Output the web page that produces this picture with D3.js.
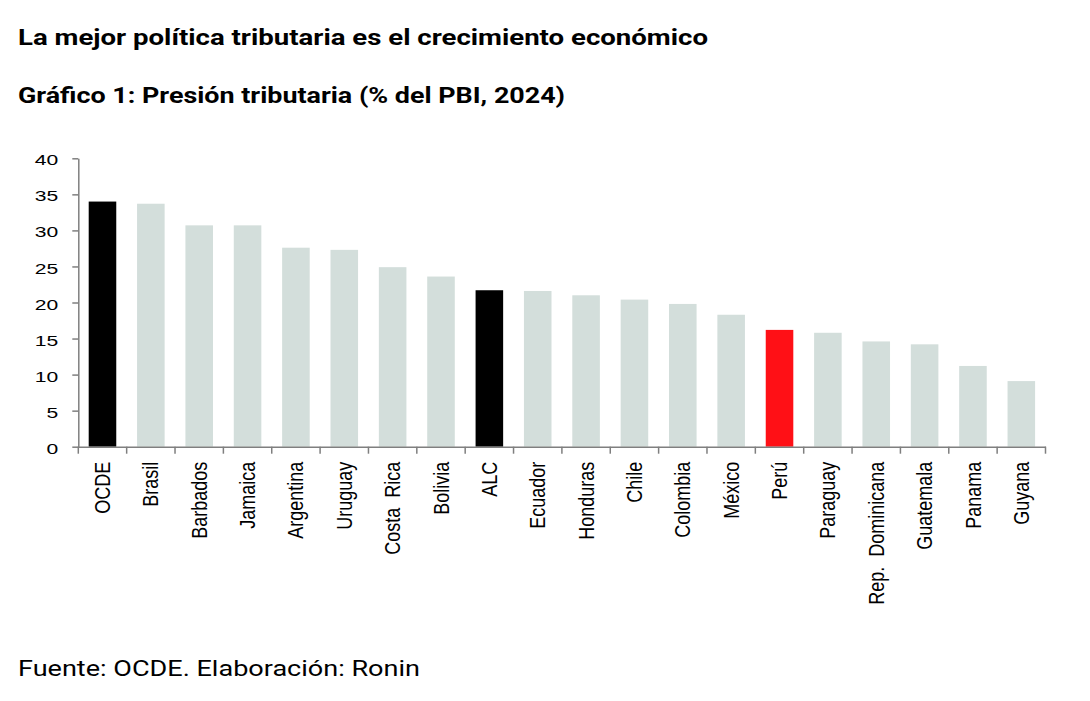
<!DOCTYPE html>
<html>
<head>
<meta charset="utf-8">
<script src="https://cdn.jsdelivr.net/npm/d3@7/dist/d3.min.js"></script>
<style>
  html, body { margin: 0; padding: 0; background: #fff; }
  svg { display: block; }
</style>
</head>
<body>
<svg id="chart" width="1090" height="701"></svg>
<script>
const categories = ["OCDE","Brasil","Barbados","Jamaica","Argentina","Uruguay","Costa  Rica","Bolivia","ALC","Ecuador","Honduras","Chile","Colombia","México","Perú","Paraguay","Rep.  Dominicana","Guatemala","Panama","Guyana"];
const values = [34.0,33.7,30.7,30.7,27.6,27.3,24.9,23.6,21.7,21.6,21.0,20.4,19.8,18.3,16.2,15.8,14.6,14.2,11.2,9.1];
const highlightBlack = ["OCDE","ALC"];
const highlightRed = ["Perú"];
const yTicks = [0,5,10,15,20,25,30,35,40];
const title = "La mejor política tributaria es el crecimiento económico";
const subtitle = "Gráfico 1: Presión tributaria (% del PBI, 2024)";
const source = "Fuente: OCDE. Elaboración: Ronin";

const data = categories.map((c, i) => ({ name: c, value: values[i] }));

const svg = d3.select("#chart");
const mLeft = 78.3, mRight = 1045.5, mTop = 158.3, mBottom = 446.7;

const x = d3.scaleBand().domain(categories).range([mLeft, mRight]).paddingInner(0.43).paddingOuter(0.215);
const y = d3.scaleLinear().domain([0, 40]).range([mBottom, mTop]);

const axisColor = "#7f7f7f";

// titles
svg.append("text").attr("x", 18).attr("y", 45)
  .attr("font-family", "Roboto, 'Liberation Sans', sans-serif").attr("font-weight", 700)
  .attr("font-size", 22).attr("fill", "#000")
  .attr("textLength", 690).attr("lengthAdjust", "spacingAndGlyphs")
  .text(title);
svg.append("text").attr("x", 18).attr("y", 103)
  .attr("font-family", "Roboto, 'Liberation Sans', sans-serif").attr("font-weight", 700)
  .attr("font-size", 22).attr("fill", "#000")
  .attr("textLength", 547).attr("lengthAdjust", "spacingAndGlyphs")
  .text(subtitle);
svg.append("text").attr("x", 18).attr("y", 676)
  .attr("font-family", "Roboto, 'Liberation Sans', sans-serif").attr("font-weight", 400)
  .attr("font-size", 22).attr("fill", "#000")
  .attr("textLength", 402).attr("lengthAdjust", "spacingAndGlyphs")
  .text(source);

// bars
svg.append("g").selectAll("rect").data(data).join("rect")
  .attr("x", d => x(d.name))
  .attr("y", d => y(d.value))
  .attr("width", x.bandwidth())
  .attr("height", d => y(0) - y(d.value))
  .attr("fill", d => highlightBlack.includes(d.name) ? "#000000" : highlightRed.includes(d.name) ? "#ff1016" : "#d3dedb");

// y axis
const yAxis = svg.append("g").attr("transform", `translate(${mLeft},0)`)
  .call(d3.axisLeft(y).tickValues(yTicks).tickSize(6).tickSizeOuter(0).tickPadding(14));
yAxis.select(".domain").attr("stroke", axisColor).attr("stroke-width", 1.5);
yAxis.selectAll(".tick line").attr("stroke", axisColor).attr("stroke-width", 1.5);
yAxis.selectAll(".tick text")
  .attr("font-family", "'Liberation Sans', Arial, sans-serif").attr("font-size", 15.5)
  .attr("fill", "#000")
  .attr("x", 0).attr("dy", "0.36em")
  .attr("text-anchor", "end")
  .attr("transform", "translate(-20,1) scale(1.36,1)");

// x axis
const xAxis = svg.append("g").attr("transform", `translate(0,${mBottom})`)
  .call(d3.axisBottom(x).tickSize(0).tickSizeOuter(0).tickPadding(0));
xAxis.select(".domain").attr("stroke", axisColor).attr("stroke-width", 1.5);
xAxis.selectAll(".tick text")
  .attr("font-family", "'Liberation Sans', Arial, sans-serif").attr("font-size", 18)
  .attr("fill", "#000")
  .attr("text-anchor", "end")
  .attr("transform", "rotate(-90) scale(1,1.2)")
  .attr("x", -15).attr("y", 0).attr("dy", "0.35em")
  .style("white-space", "pre");

// band boundary ticks
const step = x.step();
const boundaries = d3.range(categories.length + 1).map(i => mLeft + i * step);
svg.append("g").selectAll("line").data(boundaries).join("line")
  .attr("x1", d => d).attr("x2", d => d)
  .attr("y1", mBottom).attr("y2", mBottom + 7)
  .attr("stroke", axisColor).attr("stroke-width", 1.5);
</script>
</body>
</html>
